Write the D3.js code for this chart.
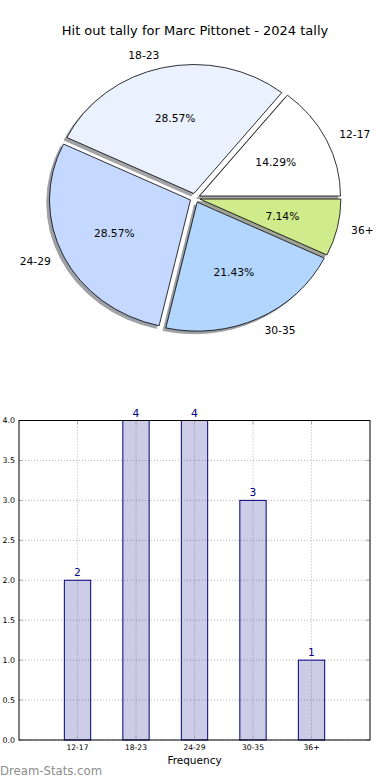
<!DOCTYPE html>
<html><head><meta charset="utf-8">
<script src="https://cdn.jsdelivr.net/npm/d3@7"></script>
<style>body{margin:0;background:#fff}svg{display:block;font-family:"DejaVu Sans",sans-serif}</style>
</head><body>
<svg id="c" width="390" height="780"></svg>
<script>
const categories = ["12-17","18-23","24-29","30-35","36+"];
const values = [2,4,4,3,1];
const pieColors = ["#ffffff","#eaf1ff","#c5d8ff","#b3d6ff","#cfeb8b"];
const yTicks = [0,0.5,1,1.5,2,2.5,3,3.5,4];
const title = "Hit out tally for Marc Pittonet - 2024 tally";

const svg = d3.select("#c");
svg.append("text").attr("x",195).attr("y",35).attr("text-anchor","middle")
  .attr("font-size",13).attr("fill","#000").text(title);

// ---- Pie ----
const cx=195, cy=198, rx=141, ry=129, ex=5, ey=4.6;
const total = d3.sum(values);
const pie = d3.pie().sort(null).startAngle(Math.PI/2).endAngle(Math.PI/2-2*Math.PI);
const arcs = pie(values);
const arc = d3.arc().innerRadius(0).outerRadius(rx);
const sy = ry/rx;
function shift(d){const m=(d.startAngle+d.endAngle)/2;return [ex*Math.sin(m), -ey*Math.cos(m)];}
function shadeColor(c){const r=d3.rgb(c);const f=v=>Math.round(255*0.5+0.5*0.3*v);return d3.rgb(f(r.r),f(r.g),f(r.b)).toString();}
const pg = svg.append("g");
// shadows first
arcs.forEach((d,i)=>{
  const [dx,dy]=shift(d);
  pg.append("path").attr("d",arc(d))
    .attr("transform",`translate(${cx+dx-2.8},${cy+dy+2.6}) scale(1,${sy})`)
    .attr("fill",shadeColor(pieColors[i])).attr("stroke","#999").attr("stroke-width",0.8)
    .attr("vector-effect","non-scaling-stroke");
});
arcs.forEach((d,i)=>{
  const [dx,dy]=shift(d);
  pg.append("path").attr("d",arc(d))
    .attr("transform",`translate(${cx+dx},${cy+dy}) scale(1,${sy})`)
    .attr("fill",pieColors[i]).attr("stroke","#000").attr("stroke-width",0.8)
    .attr("vector-effect","non-scaling-stroke");
});
arcs.forEach((d,i)=>{
  const [dx,dy]=shift(d);
  const m=(d.startAngle+d.endAngle)/2, s=Math.sin(m), c=-Math.cos(m);
  const lx=cx+dx+1.1*rx*s, ly=cy+dy+1.1*ry*c;
  pg.append("text").attr("x",lx).attr("y",ly).attr("dy","0.35em")
    .attr("text-anchor", s>0?"start":"end").attr("font-size",10.7).text(categories[i]);
  const px=cx+dx+0.6*rx*s, py=cy+dy+0.6*ry*c;
  pg.append("text").attr("x",px).attr("y",py).attr("dy","0.35em")
    .attr("text-anchor","middle").attr("font-size",10.7)
    .text((values[i]/total*100).toFixed(2)+"%");
});

// ---- Bar chart ----
const L=19,R=370,T=420.5,B=740;
const x = d3.scaleLinear().domain([-1,5]).range([L,R]);
const y = d3.scaleLinear().domain([0,4]).range([B,T]);
const bw = 0.45;
const bg = svg.append("g");
// grid
bg.selectAll(".gy").data(yTicks).join("line")
  .attr("x1",L).attr("x2",R).attr("y1",d=>y(d)).attr("y2",d=>y(d))
  .attr("stroke","#b8b8b8").attr("stroke-width",1).attr("stroke-dasharray","1,2");
bg.selectAll(".gx").data(categories).join("line")
  .attr("x1",(d,i)=>x(i)).attr("x2",(d,i)=>x(i)).attr("y1",T).attr("y2",B)
  .attr("stroke","#b8b8b8").attr("stroke-width",1).attr("stroke-dasharray","1,2");
// bars
bg.selectAll(".bar").data(values).join("rect")
  .attr("x",(d,i)=>x(i-bw/2)).attr("width",(d,i)=>x(i+bw/2)-x(i-bw/2))
  .attr("y",d=>y(d)).attr("height",d=>B-y(d))
  .attr("fill","#000080").attr("fill-opacity",0.2)
  .attr("stroke","#000080").attr("stroke-width",1);
// value labels
bg.selectAll(".vl").data(values).join("text")
  .attr("x",(d,i)=>x(i)).attr("y",d=>y(d)-4).attr("text-anchor","middle")
  .attr("font-size",10.7).attr("fill","#000080").text(d=>d);
// tick marks
const tk = bg.append("g").attr("stroke","#aaa").attr("stroke-width",1);
yTicks.forEach(t=>{
  tk.append("line").attr("x1",L).attr("x2",L+4).attr("y1",y(t)).attr("y2",y(t));
  tk.append("line").attr("x1",R-4).attr("x2",R).attr("y1",y(t)).attr("y2",y(t));
});
categories.forEach((c,i)=>{
  tk.append("line").attr("x1",x(i)).attr("x2",x(i)).attr("y1",T).attr("y2",T+4);
  tk.append("line").attr("x1",x(i)).attr("x2",x(i)).attr("y1",B-4).attr("y2",B);
});
// frame
bg.append("rect").attr("x",L).attr("y",T).attr("width",R-L).attr("height",B-T)
  .attr("fill","none").attr("stroke","#000").attr("stroke-width",1);
// tick labels
bg.selectAll(".yl").data(yTicks).join("text")
  .attr("x",15).attr("y",d=>y(d)).attr("dy","0.35em").attr("text-anchor","end")
  .attr("font-size",7.8).attr("fill","#000").text(d=>d.toFixed(1));
bg.selectAll(".xl").data(categories).join("text")
  .attr("x",(d,i)=>x(i)).attr("y",750).attr("text-anchor","middle")
  .attr("font-size",7.6).attr("fill","#000").text(d=>d);
svg.append("text").attr("x",194.5).attr("y",764).attr("text-anchor","middle")
  .attr("font-size",10.5).text("Frequency");
svg.append("text").attr("x",0).attr("y",775).attr("font-size",11.7)
  .attr("fill","#8c8c8c").text("Dream-Stats.com");
</script>
</body></html>
